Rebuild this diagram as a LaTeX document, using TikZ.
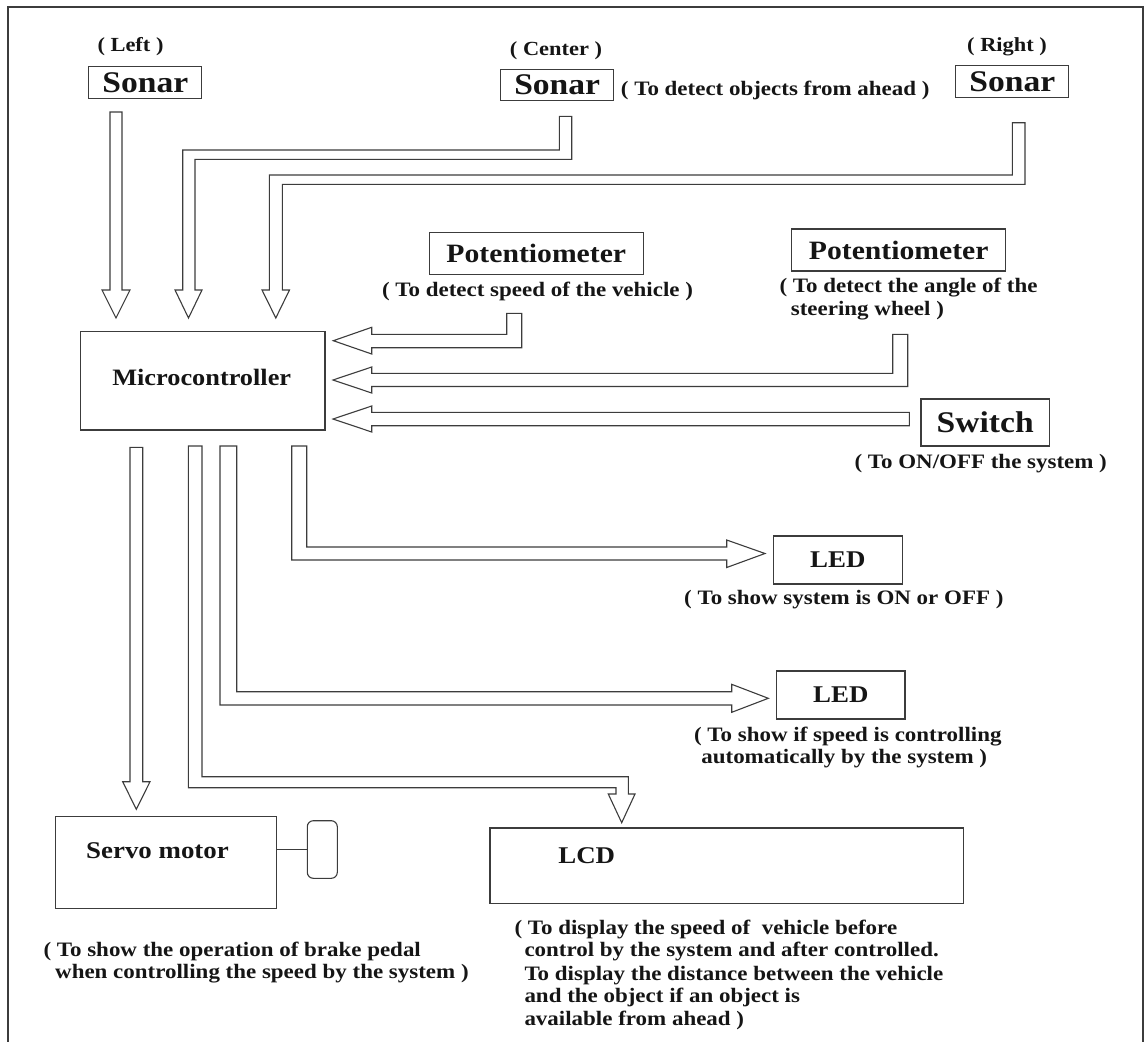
\documentclass[tikz,border=0pt]{standalone}
\usepackage{fontspec}
\setmainfont{Liberation Serif}[FakeStretch=1.12]
\usetikzlibrary{calc}
\definecolor{linec}{HTML}{3C3C3C}
\definecolor{txtc}{HTML}{151515}
\begin{document}
\begin{tikzpicture}[x=1pt,y=-1pt,
  box/.style={draw=linec,line width=1.3pt,inner sep=0pt,text=txtc,font=\bfseries},
  bigtxt/.style={font=\fontsize{30}{32}\selectfont\bfseries},
  pottxt/.style={font=\fontsize{26.5}{28}\selectfont\bfseries},
  medtxt/.style={font=\fontsize{24}{26}\selectfont\bfseries},
  desc/.style={inner sep=0pt,text=txtc,font=\fontsize{20.5}{23}\selectfont\bfseries},
  lbl/.style={inner sep=0pt,text=txtc,font=\fontsize{20}{22}\selectfont\bfseries},
  blk/.style={draw=linec,line width=1.1pt,fill=white,line join=miter}]
\useasboundingbox (0,0) rectangle (1147,1041);
% frame
\draw[linec,line width=1.3pt] (8,1045) -- (8,7) -- (1143,7) -- (1143,1045);

% nodes
\node[box,bigtxt,minimum width=113pt,minimum height=32pt] (sonarL) at (145.3,82.7) {Sonar};
\node[box,bigtxt,minimum width=113pt,minimum height=31pt] (sonarC) at (557.2,85.2) {Sonar};
\node[box,bigtxt,minimum width=113pt,minimum height=31.6pt] (sonarR) at (1012.3,81.5) {Sonar};
\node[box,pottxt,minimum width=214pt,minimum height=42pt] (potS) at (536.3,253.3) {Potentiometer};
\node[box,pottxt,minimum width=214pt,minimum height=42pt] (potA) at (898.7,250) {Potentiometer};
\node[box,bigtxt,minimum width=128.3pt,minimum height=47pt] (switch) at (985.2,422.5) {Switch};
\node[box,minimum width=244.3pt,minimum height=98.3pt] (micro) at (202.8,380.8) {};
\node[lbl,font=\fontsize{23.5}{25}\selectfont\bfseries,anchor=mid] (microtxt) at (201.7,383) {Microcontroller};
\node[box,medtxt,minimum width=129pt,minimum height=48pt] (led1) at (837.8,560) {LED};
\node[box,medtxt,minimum width=128.3pt,minimum height=48pt] (led2) at (840.8,695) {LED};
\node[box,minimum width=473.3pt,minimum height=75.3pt] (lcd) at (726.7,865.7) {};
\node[lbl,medtxt,anchor=mid] (lcdtxt) at (586.7,861) {LCD};
\node[box,minimum width=221pt,minimum height=91.6pt] (servo) at (166.2,862.5) {};
\node[lbl,medtxt,anchor=mid] (servotxt) at (157.5,856) {Servo motor};
\node[draw=linec,line width=1.1pt,rounded corners=6pt,minimum width=30pt,minimum height=57.6pt,inner sep=0pt] (pedal) at (322.3,849.5) {};
\draw[linec,line width=1.1pt] (servo.east |- 0,849.3) -- (pedal.west |- 0,849.3);

% labels
\node[lbl,anchor=mid] (lL) at (130.5,49) {( Left )};
\node[lbl,anchor=mid] (lC) at (556,53) {( Center )};
\node[lbl,anchor=mid] (lR) at (1007,49) {( Right )};
\node[desc,anchor=mid west] (dC) at (620.7,93) {( To detect objects from ahead )};
\node[desc,anchor=mid] (dS) at (537.5,294) {( To detect speed of the vehicle )};
\node[desc,anchor=mid west] (dA1) at (779.3,290) {( To detect the angle of the};
\node[desc,anchor=mid west] (dA2) at (790.7,313) {steering wheel )};
\node[desc,anchor=mid] (dSw) at (980.7,466) {( To ON/OFF the system )};
\node[desc,anchor=mid] (dL1) at (843.8,602) {( To show system is ON or OFF )};
\node[desc,anchor=mid] (dL2a) at (847.8,739) {( To show if speed is controlling};
\node[desc,anchor=mid] (dL2b) at (844.2,761) {automatically by the system )};
\node[desc,anchor=mid west] (dSv1) at (43.3,954) {( To show the operation of brake pedal};
\node[desc,anchor=mid west] (dSv2) at (55,976) {when controlling the speed by the system )};
\node[desc,anchor=mid west] (dLc1) at (514.3,932) {( To display the speed of~ vehicle before};
\node[desc,anchor=mid west] (dLc2) at (524.3,954) {control by the system and after controlled.};
\node[desc,anchor=mid west] (dLc3) at (524.3,978) {To display the distance between the vehicle};
\node[desc,anchor=mid west] (dLc4) at (524.3,1000.5) {and the object if an object is};
\node[desc,anchor=mid west] (dLc5) at (524.3,1023) {available from ahead )};

% block arrows
% left sonar -> micro
\draw[blk] (110,112) -- (122,112) -- (122,290) -- (130,290) -- (116,318) -- (102,290) -- (110,290) -- cycle;
% center sonar -> micro
\draw[blk] (559.3,116.3) -- (571.7,116.3) -- (571.7,159.3) -- (195,159.3) -- (195,290) -- (202,290) -- (188.5,318) -- (175,290) -- (182.7,290) -- (182.7,150) -- (559.3,150) -- cycle;
% right sonar -> micro
\draw[blk] (1012.3,122.7) -- (1025,122.7) -- (1025,184.3) -- (282.3,184.3) -- (282.3,290) -- (289.5,290) -- (275.8,318) -- (262,290) -- (269.3,290) -- (269.3,175) -- (1012.3,175) -- cycle;
% speed pot -> micro
\draw[blk] (506.7,313.3) -- (521.7,313.3) -- (521.7,347.7) -- (371.7,347.7) -- (371.7,354) -- (333.3,340.7) -- (371.7,327.3) -- (371.7,334.3) -- (506.7,334.3) -- cycle;
% angle pot -> micro
\draw[blk] (892.7,334.3) -- (907.7,334.3) -- (907.7,386.5) -- (371.7,386.5) -- (371.7,393) -- (333,380) -- (371.7,367) -- (371.7,373.3) -- (892.7,373.3) -- cycle;
% switch -> micro
\draw[blk] (909.3,412.3) -- (909.3,425.7) -- (371.7,425.7) -- (371.7,432) -- (333,419) -- (371.7,406) -- (371.7,412.3) -- cycle;
% micro -> LED1
\draw[blk] (291.7,446) -- (306.7,446) -- (306.7,547) -- (726.7,547) -- (726.7,540) -- (765,553.5) -- (726.7,567.5) -- (726.7,560) -- (291.7,560) -- cycle;
% micro -> LED2
\draw[blk] (220,446) -- (236.7,446) -- (236.7,691.7) -- (731.7,691.7) -- (731.7,684.3) -- (768.3,698.3) -- (731.7,712.3) -- (731.7,705) -- (220,705) -- cycle;
% micro -> LCD
\draw[blk] (188.3,446) -- (202,446) -- (202,776.7) -- (628.3,776.7) -- (628.3,794) -- (635,794) -- (621.7,822.7) -- (608.3,794) -- (616,794) -- (616,787.7) -- (188.3,787.7) -- cycle;
% micro -> servo
\draw[blk] (130,447.3) -- (142.7,447.3) -- (142.7,781.7) -- (150,781.7) -- (136.3,809.3) -- (122.7,781.7) -- (130,781.7) -- cycle;
\end{tikzpicture}
\end{document}
